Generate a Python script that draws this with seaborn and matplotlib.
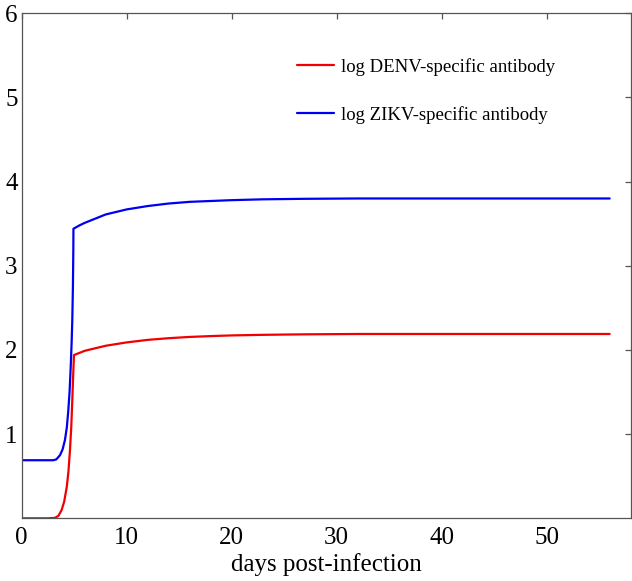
import matplotlib
matplotlib.use('Agg')
import matplotlib.pyplot as plt
import seaborn as sns

# Data
days_denv = [0, 2.5, 3.17, 3.5, 3.81, 4.05, 4.29, 4.45, 4.6, 4.72, 4.82, 4.9, 4.98,
             5.5, 6, 7, 8, 9, 10, 11, 12, 14, 16, 18, 20, 23, 27, 32, 40, 56]
denv_ab = [0, 0, 0.005, 0.03, 0.1, 0.2, 0.37, 0.55, 0.81, 1.08, 1.40, 1.68, 1.94,
           1.965, 1.99, 2.02, 2.05, 2.07, 2.09, 2.105, 2.12, 2.14, 2.155, 2.165, 2.173,
           2.18, 2.186, 2.19, 2.19, 2.19]

days_zikv = [0, 3.0, 3.3, 3.65, 3.9, 4.12, 4.3, 4.44, 4.56, 4.67, 4.76, 4.82, 4.88, 4.92, 4.93,
             5.5, 6, 7, 8, 9, 10, 11, 12, 14, 16, 18, 20, 23, 27, 32, 40, 56]
zikv_ab = [0.69, 0.69, 0.70, 0.75, 0.82, 0.93, 1.08, 1.28, 1.50, 1.80, 2.10, 2.35, 2.75, 3.2, 3.44,
           3.48, 3.51, 3.56, 3.61, 3.64, 3.67, 3.69, 3.71, 3.74, 3.76, 3.77, 3.78, 3.79,
           3.796, 3.80, 3.80, 3.80]

x_ticks = [0, 10, 20, 30, 40, 50]
y_ticks = [1, 2, 3, 4, 5, 6]

sns.set_style('white')
plt.rcParams['font.family'] = ['Liberation Serif', 'DejaVu Serif']
plt.rcParams['text.color'] = 'black'
plt.rcParams['axes.labelcolor'] = 'black'

fig = plt.figure(figsize=(6.32, 5.81), dpi=100)
ax = fig.add_axes([0.0343, 0.1079, 0.9636, 0.8692])

sns.lineplot(x=days_denv, y=denv_ab, color='#f00000', lw=1.6, sort=False,
             estimator=None, label='log DENV-specific antibody', ax=ax)
sns.lineplot(x=days_zikv, y=zikv_ab, color='#0000f0', lw=1.6, sort=False,
             estimator=None, label='log ZIKV-specific antibody', ax=ax)

ax.set_xlim(0, 58)
ax.set_ylim(0, 6)
ax.set_xticks(x_ticks)
ax.set_yticks(y_ticks)

for s in ax.spines.values():
    s.set_color('#555555')
    s.set_linewidth(0.9)
    s.set_visible(True)

ax.tick_params(axis='both', direction='in', length=4, width=0.9, color='#555555',
               top=True, right=True, labelsize=18, labelcolor='black')
ax.tick_params(axis='x', pad=6)
ax.tick_params(axis='y', pad=3)

ax.set_xlabel('days post-infection', fontsize=18, labelpad=3)
ax.set_ylabel('')

ax.legend(loc='upper left', bbox_to_anchor=(0.452, 0.912), frameon=False,
          fontsize=13.5, handlelength=1.95, handletextpad=0.42, labelspacing=1.62,
          borderaxespad=0, borderpad=0, labelcolor='black')

fig.savefig('out.png', dpi=100)
